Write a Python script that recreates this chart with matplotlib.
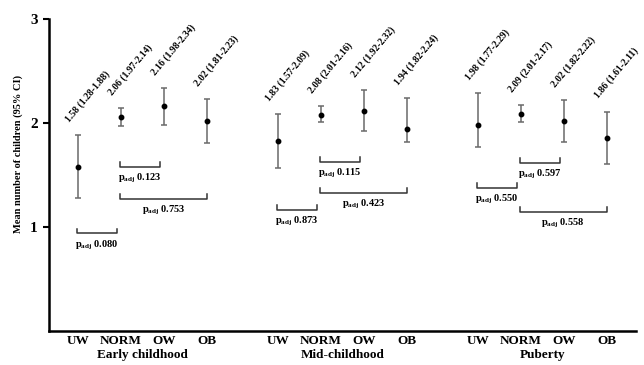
import matplotlib
matplotlib.use("Agg")
import matplotlib.pyplot as plt
import numpy as np

plt.rcParams['font.family'] = ['Liberation Serif', 'DejaVu Serif']
plt.rcParams['mathtext.fontset'] = 'custom'
plt.rcParams['mathtext.rm'] = 'Liberation Serif:bold'
plt.rcParams['mathtext.bf'] = 'Liberation Serif:bold'
plt.rcParams['mathtext.it'] = 'Liberation Serif:bold'

# ---- data ----
groups = ["Early childhood", "Mid-childhood", "Puberty"]
categories = ["UW", "NORM", "OW", "OB"]
early_mean = [1.58, 2.06, 2.16, 2.02]
early_lo = [1.28, 1.97, 1.98, 1.81]
early_hi = [1.88, 2.14, 2.34, 2.23]
mid_mean = [1.83, 2.08, 2.12, 1.94]
mid_lo = [1.57, 2.01, 1.92, 1.82]
mid_hi = [2.09, 2.16, 2.32, 2.24]
pub_mean = [1.98, 2.09, 2.02, 1.86]
pub_lo = [1.77, 2.01, 1.82, 1.61]
pub_hi = [2.29, 2.17, 2.22, 2.11]

# comparisons: (group index, cat i, cat j, p-value)
comparisons = [
    (0, 1, 2, "0.123"), (0, 1, 3, "0.753"), (0, 0, 1, "0.080"),
    (1, 0, 1, "0.873"), (1, 1, 2, "0.115"), (1, 1, 3, "0.423"),
    (2, 0, 1, "0.550"), (2, 1, 2, "0.597"), (2, 1, 3, "0.558"),
]
# bracket heights (layout)
bracket_y = [1.577, 1.27, 0.94, 1.163, 1.625, 1.327, 1.375, 1.615, 1.144]

means = [early_mean, mid_mean, pub_mean]
los = [early_lo, mid_lo, pub_lo]
his = [early_hi, mid_hi, pub_hi]

group_offsets = [0.0, 4.65, 9.3]

fig = plt.figure(figsize=(6.44, 3.65), dpi=100)
ax = fig.add_axes([49/644, 1-331/365, (636-49)/644, (331-19)/365])

xticks, xlabels = [], []
for g in range(3):
    xs = group_offsets[g] + np.arange(4)
    m = np.array(means[g]); lo = np.array(los[g]); hi = np.array(his[g])
    ax.errorbar(xs, m, yerr=[m-lo, hi-m], fmt='none', ecolor='#6a6a6a',
                elinewidth=1.1, capsize=2.3, capthick=1.1, zorder=2)
    ax.plot(xs, m, 'o', color='black', markersize=3.2, zorder=3)
    for x, mv, l, h in zip(xs, m, lo, hi):
        ax.annotate(f"{mv:.2f} ({l:.2f}-{h:.2f})", xy=(x, h), xytext=(-5, 8),
                    textcoords='offset points', rotation=50, rotation_mode='anchor',
                    ha='left', va='bottom', fontsize=7, fontweight='bold')
    xticks += list(xs); xlabels += categories
    ax.text(group_offsets[g] + 1.5, -0.235, groups[g], ha='center', va='center',
            fontsize=9.5, fontweight='bold', transform=ax.transData)

for (g, i, j, p), yb in zip(comparisons, bracket_y):
    x1 = group_offsets[g] + i - 0.02
    x2 = group_offsets[g] + j - (0.0 if j - i > 1 else 0.09)
    ax.plot([x1, x1, x2, x2], [yb + 0.045, yb, yb, yb + 0.045], color='#333333', lw=1.1)
    ax.text((x1 + x2) / 2, yb - 0.05, r"$\mathbf{p}_{\mathbf{adj}}$ " + p, ha='center', va='top',
            fontsize=7.5, fontweight='bold')

ax.set_xlim(-0.67, 12.98)
ax.set_ylim(0, 3)
ax.set_yticks([1, 2, 3])
ax.set_yticklabels(["1", "2", "3"], fontsize=11, fontweight='bold')
ax.set_xticks(xticks)
ax.set_xticklabels(xlabels, fontsize=9.5, fontweight='bold')
ax.tick_params(axis='x', length=0, pad=3)
ax.tick_params(axis='y', length=4, width=1.5, pad=4)
for s in ['top', 'right']:
    ax.spines[s].set_visible(False)
for s in ['left', 'bottom']:
    ax.spines[s].set_linewidth(1.8)

fig.text(18/644, 1-154/365, "Mean number of children (95% CI)", rotation=90,
         ha='center', va='center', fontsize=7.5, fontweight='bold')

fig.savefig("out.png", dpi=100)
